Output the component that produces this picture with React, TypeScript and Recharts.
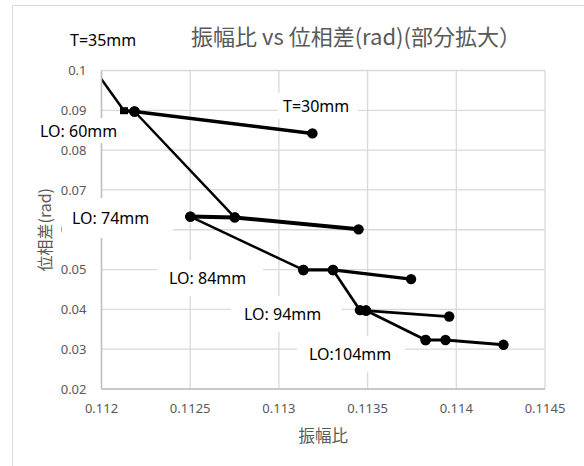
import React from "react";
import { LineChart, Line, XAxis, YAxis, CartesianGrid } from "recharts";

type Pt = { x: number; y: number };

const xTicks = [0.112, 0.1125, 0.113, 0.1135, 0.114, 0.1145];
const yTicks = [0.02, 0.03, 0.04, 0.05, 0.06, 0.07, 0.08, 0.09, 0.1];

// T=35mm line coming in from outside the zoomed window
const lead35: Pt[] = [
  { x: 0.11187, y: 0.1059 },
  { x: 0.112127, y: 0.0899 },
];
const lo60: Pt[] = [
  { x: 0.112127, y: 0.0899 },
  { x: 0.112186, y: 0.0897 },
  { x: 0.113189, y: 0.0842 },
];
const diag60: Pt[] = [
  { x: 0.112186, y: 0.0897 },
  { x: 0.112751, y: 0.0631 },
];
const lo74: Pt[] = [
  { x: 0.112501, y: 0.0633 },
  { x: 0.112751, y: 0.0631 },
  { x: 0.113449, y: 0.0601 },
];
const diag74: Pt[] = [
  { x: 0.112501, y: 0.0633 },
  { x: 0.113138, y: 0.0499 },
];
const lo84: Pt[] = [
  { x: 0.113138, y: 0.0499 },
  { x: 0.113305, y: 0.0499 },
  { x: 0.113745, y: 0.0476 },
];
const diag84: Pt[] = [
  { x: 0.113305, y: 0.0499 },
  { x: 0.113457, y: 0.0398 },
];
const lo94: Pt[] = [
  { x: 0.113491, y: 0.0397 },
  { x: 0.11396, y: 0.0382 },
];
const diag94: Pt[] = [
  { x: 0.113491, y: 0.0397 },
  { x: 0.113827, y: 0.0323 },
];
const lo104: Pt[] = [
  { x: 0.113827, y: 0.0323 },
  { x: 0.113939, y: 0.0323 },
  { x: 0.114266, y: 0.0311 },
];

const series = [
  { name: "lo60", data: lo60, width: 3.5, skipFirst: true },
  { name: "diag60", data: diag60, width: 2.5 },
  { name: "lo74", data: lo74, width: 4 },
  { name: "diag74", data: diag74, width: 2.5 },
  { name: "lo84", data: lo84, width: 3.2 },
  { name: "diag84", data: diag84, width: 2.7 },
  { name: "lo94", data: lo94, width: 2.8 },
  { name: "diag94", data: diag94, width: 2.7 },
  { name: "lo104", data: lo104, width: 3 },
];

const labels = [
  { text: "T=35mm", left: 60, top: 24, w: 88, h: 32, pad: 10 },
  { text: "T=30mm", left: 278, top: 93, w: 80, h: 26, pad: 5 },
  { text: "LO: 60mm", left: 30, top: 118, w: 100, h: 25, pad: 10 },
  { text: "LO: 74mm", left: 62, top: 198, w: 111, h: 40, pad: 10 },
  { text: "LO: 84mm", left: 157, top: 260, w: 106, h: 36, pad: 12 },
  { text: "LO: 94mm", left: 231, top: 296, w: 111, h: 36, pad: 13 },
  { text: "LO:104mm", left: 297, top: 336, w: 108, h: 36, pad: 12 },
];

const grey = "#595959";
const font = "'Noto Sans', 'Noto Sans CJK JP', sans-serif";

const roundDot = (p: any) => (
  <circle key={`d-${p.index}-${p.cx}`} cx={p.cx} cy={p.cy} r={5.2} fill="#000" />
);

export default function App() {
  return (
    <div
      style={{
        position: "fixed",
        left: 0,
        top: 0,
        width: 584,
        height: 466,
        overflow: "hidden",
        background: "#fff",
        fontFamily: font,
      }}
    >
      <div
        style={{
          position: "absolute",
          left: 12,
          top: 5,
          width: 620,
          height: 520,
          border: "1px solid #d9d9d9",
        }}
      />
      <div style={{ position: "absolute", left: 0, top: 0 }}>
        <LineChart
          width={584}
          height={466}
          margin={{ top: 70.5, right: 39, bottom: 47, left: 41.5 }}
        >
          <CartesianGrid stroke="#d9d9d9" strokeWidth={1.3} />
          <XAxis
            type="number"
            dataKey="x"
            domain={[0.112, 0.1145]}
            ticks={xTicks}
            allowDataOverflow
            tickFormatter={(v) => String(v)}
            tickLine={false}
            tickMargin={9}
            height={30}
            axisLine={{ stroke: "#bfbfbf", strokeWidth: 1.5 }}
            tick={{ fill: grey, fontSize: 13, fontFamily: font }}
            label={{
              value: "振幅比",
              position: "bottom",
              offset: 11,
              fill: grey,
              fontSize: 16.5,
              fontFamily: "'Noto Sans CJK JP', sans-serif",
            }}
          />
          <YAxis
            type="number"
            dataKey="y"
            domain={[0.02, 0.1]}
            ticks={yTicks}
            allowDataOverflow
            tickFormatter={(v) => String(v)}
            tickLine={false}
            tickMargin={9}
            width={60}
            axisLine={{ stroke: "#bfbfbf", strokeWidth: 1.5 }}
            tick={{ fill: grey, fontSize: 13, fontFamily: font }}
            label={{
              value: "位相差(rad)",
              angle: -90,
              position: "insideLeft",
              offset: 3.5,
              fill: grey,
              fontSize: 16,
              fontFamily: "'Noto Sans CJK JP', sans-serif",
              style: { textAnchor: "middle" },
            }}
          />
          <Line
            data={lead35}
            dataKey="y"
            stroke="#000"
            strokeWidth={2.5}
            isAnimationActive={false}
            activeDot={false}
            dot={(p: any) =>
              p.index === 1 ? (
                <rect
                  key={`lead-${p.index}`}
                  x={p.cx - 4}
                  y={p.cy - 3.5}
                  width={8}
                  height={7}
                  fill="#000"
                />
              ) : (
                <g key={`lead-${p.index}`} />
              )
            }
          />
          {series.map((s) => (
            <Line
              key={s.name}
              data={s.data}
              dataKey="y"
              stroke="#000"
              strokeWidth={s.width}
              isAnimationActive={false}
              activeDot={false}
              dot={(p: any) =>
                s.skipFirst && p.index === 0 ? (
                  <g key={`${s.name}-${p.index}`} />
                ) : (
                  roundDot(p)
                )
              }
            />
          ))}
        </LineChart>
      </div>
      <div
        style={{
          position: "absolute",
          left: 0,
          width: 712,
          top: 20,
          textAlign: "center",
          fontSize: 22,
          color: grey,
          lineHeight: "30px",
          fontFamily: "'Noto Sans CJK JP', sans-serif",
          whiteSpace: "nowrap",
        }}
      >
        振幅比 vs 位相差(rad)(部分拡大）
      </div>
      {labels.map((l) => (
        <div
          key={l.text}
          style={{
            position: "absolute",
            left: l.left,
            top: l.top,
            width: l.w,
            height: l.h,
            background: "#fff",
            display: "flex",
            alignItems: "center",
            paddingLeft: l.pad,
            boxSizing: "border-box",
            fontSize: 16,
            color: "#000",
            whiteSpace: "nowrap",
          }}
        >
          {l.text}
        </div>
      ))}
    </div>
  );
}
